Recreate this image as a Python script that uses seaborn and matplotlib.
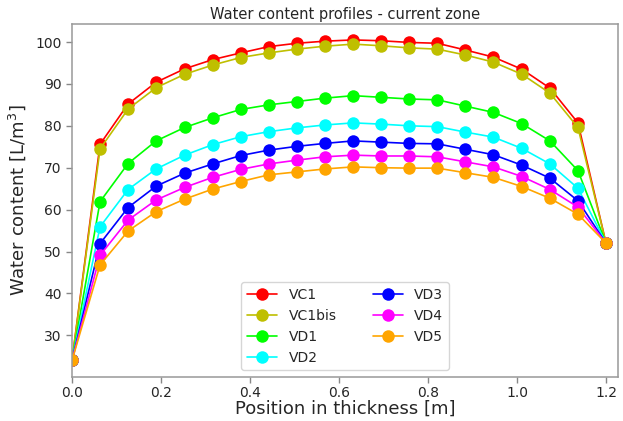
import matplotlib
matplotlib.use("Agg")
import matplotlib.pyplot as plt
import seaborn as sns
import pandas as pd

x_pos = [0.0, 0.063, 0.126, 0.189, 0.253, 0.316, 0.379, 0.442, 0.505, 0.568,
         0.632, 0.695, 0.758, 0.821, 0.884, 0.947, 1.011, 1.074, 1.137, 1.2]

VC1 = [24.0, 75.6, 85.2, 90.4, 93.6, 95.8, 97.4, 98.9, 99.7, 100.2,
       100.5, 100.3, 99.9, 99.7, 98.1, 96.4, 93.5, 89.0, 80.7, 52.0]
VC1bis = [24.0, 74.5, 84.0, 89.1, 92.3, 94.5, 96.3, 97.4, 98.3, 99.0,
          99.5, 99.1, 98.6, 98.3, 96.9, 95.2, 92.3, 87.8, 79.6, 52.0]
VD1 = [24.0, 61.9, 71.0, 76.4, 79.6, 81.9, 83.9, 85.0, 85.8, 86.6,
       87.2, 86.8, 86.4, 86.2, 84.7, 83.2, 80.5, 76.4, 69.3, 52.0]
VD2 = [24.0, 55.9, 64.8, 69.7, 73.0, 75.5, 77.4, 78.6, 79.5, 80.2,
       80.7, 80.4, 80.0, 79.8, 78.5, 77.3, 74.6, 70.9, 65.1, 52.0]
VD3 = [24.0, 51.9, 60.5, 65.6, 68.7, 70.9, 72.9, 74.2, 75.1, 75.8,
       76.4, 76.1, 75.8, 75.7, 74.4, 73.1, 70.6, 67.5, 62.1, 52.0]
VD4 = [24.0, 49.1, 57.5, 62.3, 65.3, 67.7, 69.6, 70.9, 71.8, 72.6,
       73.0, 72.8, 72.8, 72.6, 71.4, 70.2, 67.9, 64.8, 60.6, 52.0]
VD5 = [24.0, 46.8, 54.9, 59.5, 62.5, 64.9, 66.7, 68.3, 69.0, 69.7,
       70.2, 70.0, 69.9, 69.9, 68.8, 67.7, 65.5, 62.7, 58.9, 52.0]

series_names = ["VC1", "VC1bis", "VD1", "VD2", "VD3", "VD4", "VD5"]
series_values = [VC1, VC1bis, VD1, VD2, VD3, VD4, VD5]
series_colors = ["#ff0000", "#bfbf00", "#00ff00", "#00ffff", "#0000ff", "#ff00ff", "#ffa500"]

sns.set_style("white")
plt.rcParams['font.family'] = ['DejaVu Sans']

fig = plt.figure(figsize=(6.23, 4.21), dpi=100)
ax = fig.add_axes([0.1156, 0.1045, 0.8764, 0.8375])

for name, vals, col in zip(series_names, series_values, series_colors):
    df = pd.DataFrame({"x": x_pos, "y": vals})
    sns.lineplot(data=df, x="x", y="y", ax=ax, color=col, label=name,
                 marker="o", markersize=9, markeredgewidth=0,
                 markeredgecolor=col, linewidth=1.2)

ax.set_xlim(0, 1.227)
ax.set_ylim(20.05, 104.2)
ax.set_xticks([0.0, 0.2, 0.4, 0.6, 0.8, 1.0, 1.2])
ax.set_yticks([30, 40, 50, 60, 70, 80, 90, 100])
ax.set_title("Water content profiles - current zone", fontsize=10.5, color="#262626", pad=4)
ax.set_xlabel("Position in thickness [m]", fontsize=13, color="#262626", labelpad=0)
ax.set_ylabel("Water content [L/m$^3$]", fontsize=13, color="#262626", labelpad=5)
ax.tick_params(axis="both", labelsize=10, colors="#262626", length=4, width=1,
               left=True, bottom=True)
ax.tick_params(axis="x", pad=2.5)
ax.tick_params(axis="both", color="#888888")
for s in ax.spines.values():
    s.set_color("#999999")
    s.set_linewidth(1.1)

ax.legend(loc="lower center", ncol=2, fontsize=10, frameon=True,
          markerscale=1.0, handlelength=2.2, columnspacing=2.6)

fig.savefig("out.png", dpi=100)
